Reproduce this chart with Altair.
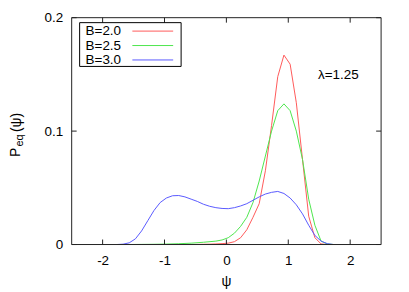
import altair as alt
import pandas as pd

# ---- data ----
series_names = ["B=2.0", "B=2.5", "B=3.0"]
series_colors = ["#ff5a5a", "#4ee64e", "#5a5aff"]

x_b20 = [-0.57, -0.47, -0.37, -0.27, -0.17, -0.07, 0.03, 0.13, 0.23, 0.33, 0.43, 0.53,
         0.63, 0.73, 0.83, 0.93, 1.03, 1.13, 1.23, 1.33, 1.43, 1.53, 1.63]
y_b20 = [0.0, 0.0001, 0.0002, 0.0003, 0.0005, 0.0008, 0.0012, 0.0025, 0.006, 0.013, 0.024, 0.036,
         0.065, 0.105, 0.148, 0.167, 0.159, 0.125, 0.075, 0.025, 0.006, 0.0005, 0.0]

x_b25 = [-1.57, -1.37, -1.17, -0.97, -0.77, -0.57, -0.37, -0.17, -0.07, 0.03, 0.13, 0.23, 0.33,
         0.43, 0.53, 0.63, 0.73, 0.83, 0.93, 1.03, 1.13, 1.23, 1.33, 1.43, 1.53, 1.63, 1.73]
y_b25 = [0.0, 0.0001, 0.0002, 0.0004, 0.0007, 0.0012, 0.002, 0.003, 0.004, 0.006, 0.010, 0.016,
         0.024, 0.037, 0.056, 0.078, 0.100, 0.118, 0.124, 0.118, 0.100, 0.075, 0.040, 0.017,
         0.003, 0.0005, 0.0]

x_b30 = [-1.77, -1.67, -1.57, -1.47, -1.37, -1.27, -1.17, -1.07, -0.97, -0.87, -0.77, -0.67,
         -0.57, -0.47, -0.37, -0.27, -0.17, -0.07, 0.03, 0.13, 0.23, 0.33, 0.43, 0.53, 0.63,
         0.73, 0.83, 0.93, 1.03, 1.13, 1.23, 1.33, 1.43, 1.53, 1.63, 1.73]
y_b30 = [0.0, 0.0003, 0.0015, 0.005, 0.012, 0.021, 0.030, 0.037, 0.041, 0.043, 0.0432, 0.042,
         0.040, 0.038, 0.0355, 0.0337, 0.0325, 0.0318, 0.0316, 0.0325, 0.034, 0.036, 0.039,
         0.042, 0.0445, 0.046, 0.0468, 0.045, 0.041, 0.035, 0.027, 0.017, 0.008, 0.003,
         0.0008, 0.0]

x_ticks = [-2, -1, 0, 1, 2]
y_ticks = [0, 0.1, 0.2]
x_domain = [-2.5, 2.5]
y_domain = [0, 0.2]
annot_text = "λ=1.25"
annot_x = [1.48]
annot_y = [0.149]

# ---- build tables ----
rows = []
for name, xs, ys in [(series_names[0], x_b20, y_b20),
                     (series_names[1], x_b25, y_b25),
                     (series_names[2], x_b30, y_b30)]:
    for xv, yv in zip(xs, ys):
        rows.append({"psi": xv, "P": yv, "B": name})
df = pd.DataFrame(rows)

W, H = 311, 228
FONT = "Liberation Sans"
FS = 13.5

xscale = alt.Scale(domain=x_domain, nice=False, zero=False)
yscale = alt.Scale(domain=y_domain, nice=False, zero=False)
cscale = alt.Scale(domain=series_names, range=series_colors)

lines = alt.Chart(df).mark_line(strokeWidth=1, clip=True).encode(
    x=alt.X("psi:Q", scale=xscale,
            axis=alt.Axis(values=x_ticks, title=None, grid=False, ticks=False, tickSize=0,
                          domain=False, labelPadding=9, labelFont=FONT, labelFontSize=FS,
                          labelColor="black", labelExpr="'' + datum.value")),
    y=alt.Y("P:Q", scale=yscale,
            axis=alt.Axis(values=y_ticks, title=None, grid=False, ticks=False, tickSize=0,
                          domain=False, labelPadding=9, labelFont=FONT, labelFontSize=FS,
                          labelColor="black", labelExpr="'' + datum.value")),
    color=alt.Color("B:N", scale=cscale, legend=None),
    order=alt.Order("psi:Q"),
)


def box_rules(x0, x1, y0, y1, color, width=1):
    one = pd.DataFrame({"a": [0]})
    st = dict(color=color, strokeWidth=width)
    return [
        alt.Chart(one).mark_rule(**st).encode(x=alt.value(x0), x2=alt.value(x1), y=alt.value(y0)),
        alt.Chart(one).mark_rule(**st).encode(x=alt.value(x0), x2=alt.value(x1), y=alt.value(y1)),
        alt.Chart(one).mark_rule(**st).encode(x=alt.value(x0), y=alt.value(y0), y2=alt.value(y1)),
        alt.Chart(one).mark_rule(**st).encode(x=alt.value(x1), y=alt.value(y0), y2=alt.value(y1)),
    ]


# frame
frame = box_rules(0, W, 0, H, "#222222", 1)

# inside ticks (gnuplot style, mirrored)
xt = pd.DataFrame({"v": x_ticks})
yt = pd.DataFrame({"v": y_ticks})
TL = 5
tick_style = dict(color="#222222", strokeWidth=1)
xb = alt.Chart(xt).mark_rule(**tick_style).encode(
    x=alt.X("v:Q", scale=xscale), y=alt.value(H), y2=alt.value(H - TL))
xtop = alt.Chart(xt).mark_rule(**tick_style).encode(
    x=alt.X("v:Q", scale=xscale), y=alt.value(0), y2=alt.value(TL))
yl = alt.Chart(yt).mark_rule(**tick_style).encode(
    y=alt.Y("v:Q", scale=yscale), x=alt.value(0), x2=alt.value(TL))
yr = alt.Chart(yt).mark_rule(**tick_style).encode(
    y=alt.Y("v:Q", scale=yscale), x=alt.value(W), x2=alt.value(W - TL))

# annotation
ann = alt.Chart(pd.DataFrame({"x": annot_x, "y": annot_y, "t": [annot_text]})).mark_text(
    align="left", baseline="middle", font=FONT, fontSize=FS, color="black").encode(
    x=alt.X("x:Q", scale=xscale), y=alt.Y("y:Q", scale=yscale), text="t:N")

# legend box
leg_rows = [13.5, 28, 42.5]
legend_layers = box_rules(8, 110, 5, 49, "black", 1)
for name, col, yy in zip(series_names, series_colors, leg_rows):
    legend_layers.append(
        alt.Chart(pd.DataFrame({"t": [name]})).mark_text(
            align="left", baseline="middle", font=FONT, fontSize=FS, color="black").encode(
            x=alt.value(14), y=alt.value(yy), text="t:N"))
    legend_layers.append(
        alt.Chart(pd.DataFrame({"a": [0]})).mark_rule(color=col, strokeWidth=1).encode(
            x=alt.value(61), x2=alt.value(102), y=alt.value(yy)))

# axis titles as text
title_style = dict(font=FONT, color="black")
xtitle = alt.Chart(pd.DataFrame({"t": ["ψ"]})).mark_text(
    align="center", baseline="alphabetic", fontSize=14, **title_style).encode(
    x=alt.value(W / 2), y=alt.value(270), text="t:N")
yt_P = alt.Chart(pd.DataFrame({"t": ["P"]})).mark_text(
    align="left", baseline="alphabetic", angle=270, fontSize=14, **title_style).encode(
    x=alt.value(-52), y=alt.value(140), text="t:N")
yt_eq = alt.Chart(pd.DataFrame({"t": ["eq"]})).mark_text(
    align="left", baseline="alphabetic", angle=270, fontSize=11, **title_style).encode(
    x=alt.value(-48.5), y=alt.value(129.5), text="t:N")
yt_psi = alt.Chart(pd.DataFrame({"t": ["(ψ)"]})).mark_text(
    align="left", baseline="alphabetic", angle=270, fontSize=14, **title_style).encode(
    x=alt.value(-51), y=alt.value(115), text="t:N")

chart = alt.layer(
    lines, *frame, xb, xtop, yl, yr, ann, *legend_layers, xtitle, yt_P, yt_eq, yt_psi
).properties(
    width=W, height=H,
    autosize=alt.AutoSizeParams(type="none"),
    padding={"left": 64, "top": 9, "right": 20, "bottom": 47},
).configure_view(
    stroke=None
)

chart.save("out.html", embed_options={"renderer": "svg", "actions": False})
